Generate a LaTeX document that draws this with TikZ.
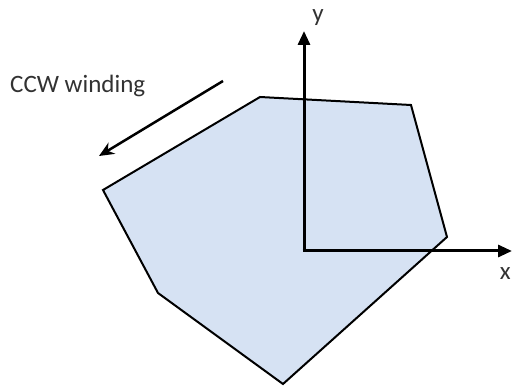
\documentclass[tikz,border=0pt]{standalone}
\usepackage{fontspec}
\setmainfont{Carlito}
\usetikzlibrary{arrows.meta}
\definecolor{polyfill}{RGB}{214,226,243}
\definecolor{txt}{RGB}{50,50,50}
\tikzset{
  poly/.style={draw=black, fill=polyfill, line width=2pt, line join=miter},
  axis/.style={draw=black, line width=3pt, -{Triangle[length=14pt,width=12pt]}},
  wind/.style={draw=black, line width=2.5pt, -{Stealth[length=15pt,width=13pt]}},
  lbl/.style={text=txt, font=\fontsize{25}{29}\selectfont, inner sep=0pt}
}
\begin{document}
\begin{tikzpicture}[x=1pt,y=-1pt]
\useasboundingbox (0,0) rectangle (512,387);
\coordinate (p1) at (260,97);
\coordinate (p2) at (411,105);
\coordinate (p3) at (447,237);
\coordinate (p4) at (283,384);
\coordinate (p5) at (158,293);
\coordinate (p6) at (103,190);
\draw[poly] (p1) -- (p2) -- (p3) -- (p4) -- (p5) -- (p6) -- cycle;
\coordinate (o) at (304,251);
\coordinate (ytip) at (304,31);
\coordinate (xtip) at (512,251);
\draw[axis] (o) -- (ytip);
\draw[axis] ([xshift=-1.5pt]o) -- (xtip);
\node[lbl, anchor=center] (ylab) at (318,18) {y};
\node[lbl, anchor=east] (xlab) at (511,274) {x};
\node[lbl, anchor=west] (cap) at (10,86) {CCW winding};
\coordinate (ws) at (223,81);
\coordinate (we) at (99,156);
\draw[wind] (ws) -- (we);
\end{tikzpicture}
\end{document}
